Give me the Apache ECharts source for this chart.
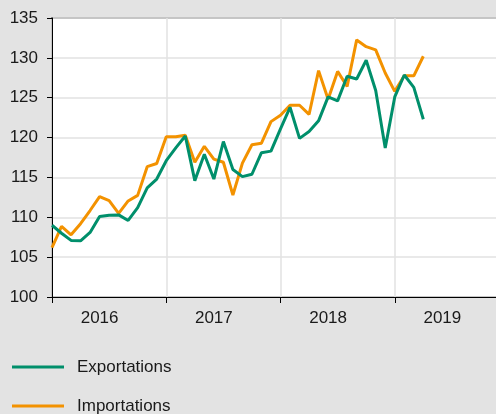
<!DOCTYPE html>
<html>
<head>
<meta charset="utf-8">
<script src="https://cdn.jsdelivr.net/npm/echarts@6/dist/echarts.min.js"></script>
<style>
  html, body { margin: 0; padding: 0; background: #e3e3e3; }
  #chart { width: 496px; height: 414px; }
</style>
</head>
<body>
<div id="chart"></div>
<script>
// Years shown on the x axis (monthly categories are built from them)
const years = ['2016', '2017', '2018', '2019', '2020'];

// Monthly index values, Jan 2016 - Apr 2019
const exportations = [
  109.0, 108.0, 107.1, 107.05, 108.1, 110.1, 110.25, 110.3, 109.6, 111.2, 113.7, 114.8,
  117.1, 118.7, 120.2, 114.6, 117.9, 114.8, 119.5, 116.0, 115.1, 115.4, 118.1, 118.3,
  121.1, 123.8, 119.9, 120.75, 122.1, 125.1, 124.6, 127.7, 127.35, 129.7, 125.9, 118.7,
  125.1, 127.85, 126.3, 122.3,
];
const importations = [
  106.2, 108.85, 107.8, 109.2, 110.85, 112.6, 112.1, 110.5, 112.05, 112.75, 116.35, 116.75,
  120.1, 120.1, 120.3, 116.9, 118.9, 117.3, 116.9, 112.8, 116.8, 119.1, 119.3, 122.0,
  122.8, 124.05, 124.05, 122.9, 128.4, 124.8, 128.3, 126.4, 132.25, 131.4, 131.0, 128.1,
  125.8, 127.75, 127.75, 130.2,
];

const seriesNames = ['Exportations', 'Importations'];
const colors = ['#008f6b', '#f39200'];

// Category per month, last one is Jan of the final year (right edge)
const months = [];
years.forEach((y, i) => {
  const n = i === years.length - 1 ? 1 : 12;
  for (let m = 1; m <= n; m++) months.push(y + '-' + String(m).padStart(2, '0'));
});

const font = 'Liberation Sans, Arial, sans-serif';

// One legend block per series, stacked (the second one runs off the bottom)
const legendTops = [357, 396];
const legends = seriesNames.map((name, i) => ({
  left: 12,
  top: legendTops[i],
  padding: 0,
  itemWidth: 52,
  itemHeight: 3,
  icon: 'rect',
  data: [name],
  textStyle: {
    fontFamily: font,
    fontSize: 17,
    color: '#1a1a1a',
    lineHeight: 20,
    padding: [0, 0, 0, 8],
  },
}));

const chart = echarts.init(document.getElementById('chart'));

chart.setOption({
  backgroundColor: '#e3e3e3',
  animation: false,
  color: colors,
  grid: {
    left: 52,
    top: 18,
    right: -13,
    bottom: 117,
    containLabel: false,
    outerBoundsMode: 'none',
    show: true,
    backgroundColor: '#ffffff',
    borderColor: '#4a4a4a',
    borderWidth: 1.5,
  },
  legend: legends,
  xAxis: {
    type: 'category',
    data: months,
    boundaryGap: false,
    axisLine: { lineStyle: { color: '#000000', width: 1 } },
    axisTick: {
      length: 6,
      interval: (i) => i % 12 === 0,
      lineStyle: { color: '#000000' },
    },
    axisLabel: {
      interval: (i) => i % 12 === 5,
      formatter: (v) => v.slice(0, 4),
      margin: 13,
      fontFamily: font,
      fontSize: 17,
      color: '#1a1a1a',
    },
    splitLine: {
      show: true,
      interval: (i) => i % 12 === 0,
      lineStyle: { color: '#e2e2e2', width: 1.5 },
    },
  },
  yAxis: {
    type: 'value',
    min: 100,
    max: 135,
    interval: 5,
    axisLine: { show: true, lineStyle: { color: '#000000', width: 1 } },
    axisTick: { show: true, length: 5, lineStyle: { color: '#000000' } },
    axisLabel: {
      margin: 14,
      fontFamily: font,
      fontSize: 17,
      color: '#1a1a1a',
    },
    splitLine: { lineStyle: { color: '#e2e2e2', width: 1.5 } },
  },
  series: [
    {
      name: seriesNames[0],
      type: 'line',
      data: exportations,
      symbol: 'none',
      lineStyle: { width: 3, color: colors[0] },
      z: 3,
    },
    {
      name: seriesNames[1],
      type: 'line',
      data: importations,
      symbol: 'none',
      lineStyle: { width: 3, color: colors[1] },
      z: 2,
    },
  ],
});
</script>
</body>
</html>
